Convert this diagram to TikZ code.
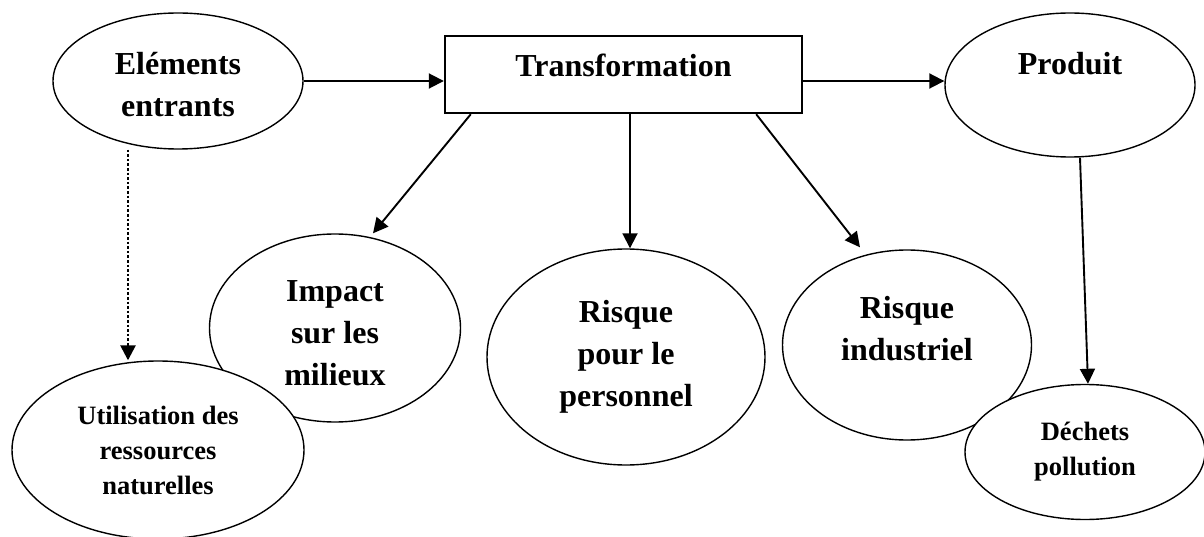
\documentclass[tikz,border=0pt]{standalone}
\usepackage{fontspec}
\setmainfont{Liberation Serif}
\usetikzlibrary{shapes.geometric,arrows.meta}
\tikzset{
  oval/.style={ellipse,draw,line width=1.4pt,fill=white,inner sep=0pt,align=center,
               font=\bfseries\fontsize{32}{42}\selectfont},
  smalloval/.style={oval,font=\bfseries\fontsize{26.5}{35}\selectfont},
  stagebox/.style={rectangle,draw,line width=2.4pt,inner sep=0pt,
                   minimum width=357pt,minimum height=77pt,
                   text height=27pt,text depth=22pt,
                   font=\bfseries\fontsize{32}{42}\selectfont},
  arr/.style={line width=1.9pt,-{Triangle[length=15pt,width=15pt]}},
  dotarr/.style={arr,line width=2.6pt,dash pattern=on 2.6pt off 2pt}
}
\begin{document}
\begin{tikzpicture}[x=1pt,y=-1pt]
\useasboundingbox (0,0) rectangle (1204,537);

% process chain
\node[oval,minimum width=250pt,minimum height=136pt] (ent) at (178,81) {\rule{0pt}{30pt}Eléments\\entrants};
\node[stagebox] (trans) at (623.5,74.5) {Transformation};
\node[oval,minimum width=250pt,minimum height=144pt] (prod) at (1070,85) {Produit\\[-12pt]\strut};

% consequences
\node[oval,minimum width=251pt,minimum height=188pt] (imp) at (335,328) {\rule{0pt}{32pt}Impact\\sur les\\milieux};
\node[smalloval,minimum width=292pt,minimum height=178pt] (util) at (158,450) {Utilisation des\\ressources\\naturelles};
\node[oval,minimum width=278pt,minimum height=216pt] (pers) at (626,357) {Risque\\pour le\\personnel};
\node[oval,minimum width=249pt,minimum height=190pt] (ind) at (907,345) {Risque\\industriel\\[-22pt]\strut};
\node[smalloval,minimum width=240pt,minimum height=135pt] (dech) at (1085,452) {Déchets\\pollution};

% flows
\draw[arr] (ent.east) -- (ent.east -| trans.west);
\draw[arr] (trans.east |- ent.east) -- (prod.west |- ent.east);
\draw[arr] ([xshift=27pt]trans.south west) -- ([xshift=38pt]imp.north);
\draw[arr] ([xshift=6.5pt]trans.south) -- ([xshift=6.5pt]trans.south |- pers.north);
\draw[arr] ([xshift=-47pt]trans.south east) -- ([xshift=-47pt,yshift=2pt]ind.north);
\draw[arr] ([xshift=10pt]prod.south) -- ([xshift=3pt]dech.north);
\draw[dotarr] ([xshift=-50pt]ent.south) -- ([xshift=-50pt]ent.south |- util.north);
\end{tikzpicture}
\end{document}
